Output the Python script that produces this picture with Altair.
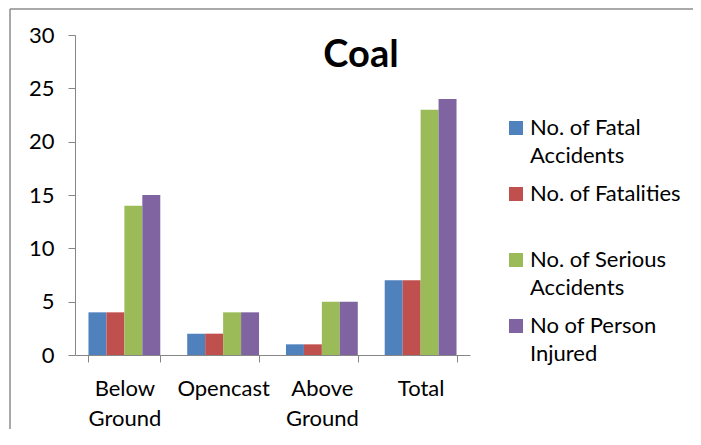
import altair as alt
import pandas as pd

categories = ["Below Ground", "Opencast", "Above Ground", "Total"]
series = ["No. of Fatal Accidents", "No. of Fatalities", "No. of Serious Accidents", "No of Person Injured"]
series_lines = [["No. of Fatal", "Accidents"], ["No. of Fatalities", ""], ["No. of Serious", "Accidents"], ["No of Person", "Injured"]]
fatal_accidents = [4, 2, 1, 7]
fatalities = [4, 2, 1, 7]
serious_accidents = [14, 4, 5, 23]
persons_injured = [15, 4, 5, 24]
colors = ["#4F81BD", "#C0504D", "#9BBB59", "#8064A2"]

rows = []
for s, vals in zip(series, [fatal_accidents, fatalities, serious_accidents, persons_injured]):
    for c, v in zip(categories, vals):
        rows.append({"Category": c, "Series": s, "Value": v})
df = pd.DataFrame(rows)

FONT = "Lato"
FS = 22

label_expr = " : ".join(
    f"datum.label == '{s}' ? {lines!r}" for s, lines in zip(series, series_lines)
) + " : datum.label"

bars = alt.Chart(df).mark_bar().encode(
    x=alt.X("Category:N", sort=categories, title=None,
            scale=alt.Scale(paddingInner=0.2727, paddingOuter=0.1364),
            axis=alt.Axis(labelAngle=0, tickBand="extent", labelFont=FONT, labelFontSize=FS,
                          labelColor="#000000", labelExpr="split(datum.label, ' ')",
                          labelBaseline="top", labelLineHeight=30, labelPadding=16,
                          tickSize=7, domainColor="#868686", tickColor="#868686",
                          labelLimit=200)),
    xOffset=alt.XOffset("Series:N", sort=series, scale=alt.Scale(paddingInner=0, paddingOuter=0)),
    y=alt.Y("Value:Q", title=None,
            scale=alt.Scale(domain=[0, 30], nice=False),
            axis=alt.Axis(values=[0, 5, 10, 15, 20, 25, 30], grid=False, labelFont=FONT,
                          labelFontSize=FS, labelColor="#000000", labelPadding=14,
                          tickSize=7, domainColor="#868686", tickColor="#868686")),
    color=alt.Color("Series:N", sort=series,
                    scale=alt.Scale(domain=series, range=colors),
                    legend=alt.Legend(title=None, orient="none", legendX=430, legendY=82,
                                      symbolType="square", symbolSize=196, symbolStrokeWidth=0,
                                      labelFont=FONT, labelFontSize=FS, labelColor="#000000",
                                      labelLimit=250, labelOffset=3, rowPadding=16,
                                      labelBaseline="top",
                                      labelExpr=label_expr)),
)

title = alt.Chart(alt.Data(values=[{}])).mark_text(
    text="Coal", font=FONT, fontSize=38, fontWeight="bold", color="#000000",
    align="center", baseline="alphabetic"
).encode(x=alt.value(286), y=alt.value(32))

frame_top = alt.Chart(alt.Data(values=[{}])).mark_rule(
    stroke="#8c8c8c", strokeWidth=1.5
).encode(x=alt.value(-65), x2=alt.value(700), y=alt.value(-26))

frame_left = alt.Chart(alt.Data(values=[{}])).mark_rule(
    stroke="#8c8c8c", strokeWidth=1.5
).encode(x=alt.value(-65), y=alt.value(-26), y2=alt.value(500))

legend_patch = [
    {"op": "add", "path": "/legends/0/encode/labels/update/lineHeight", "value": {"value": 28}},
    {"op": "add", "path": "/legends/0/encode/labels/update/dy", "value": {"value": -10}},
]

chart = alt.layer(frame_top, frame_left, bars, title).properties(
    width=395, height=320,
    padding={"left": 67, "top": 27, "right": 223, "bottom": 74},
    autosize=alt.AutoSizeParams(type="none"),
    usermeta={"embedOptions": {"patch": legend_patch}},
).configure_view(stroke=None)

chart.save("out.html", embed_options={"renderer": "svg", "actions": False})
